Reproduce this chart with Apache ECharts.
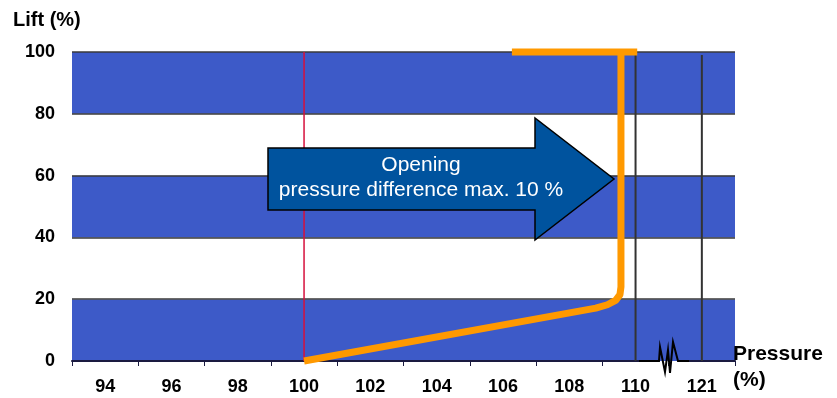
<!DOCTYPE html>
<html>
<head>
<meta charset="utf-8">
<script src="https://cdn.jsdelivr.net/npm/echarts@6/dist/echarts.min.js"></script>
<style>
  html, body { margin: 0; padding: 0; background: #fff; }
  #chart { width: 837px; height: 398px; }
</style>
</head>
<body>
<div id="chart"></div>
<script>
// Pressure tick labels (axis is broken between 110 and 121)
const pressureLabels = ['94', '96', '98', '100', '102', '104', '106', '108', '110', '121'];

// Lift curve: pressure (%) vs lift (%)
const liftCurvePressure = [100, 108.8, 109.15, 109.4, 109.53, 109.56, 109.56];
const liftCurveLift     = [0,   17.1,  18.2,   19.6,  21.5,   24,     100];

// Full-lift plateau (from / to)
const plateauPressure = [106.27, 110.05];
const plateauLift     = [100, 100];

// Reference pressures
const setPressure = 100;            // red line
const markerPressures = [110, 121]; // dark lines

const arrowText = ['Opening', 'pressure difference max. 10 %'];

// Map a pressure to the continuous axis position; everything from 121 on
// is shifted left so that 121 sits one category after 110
const BREAK_FROM = 110, BREAK_TO = 121;
function axisPos(p) {
  return p < BREAK_TO ? p : (BREAK_FROM + 2) + (p - BREAK_TO);
}

const font = 'Liberation Sans, Arial, Helvetica, sans-serif';
const BAND_BLUE = '#3d5ac8';
const ORANGE = '#ff9900';
const chart = echarts.init(document.getElementById('chart'));

const curveData = liftCurvePressure.map((p, i) => [axisPos(p), liftCurveLift[i]]);
const plateauData = plateauPressure.map((p, i) => [axisPos(p), plateauLift[i]]);

const markerSeries = markerPressures.map(p => ({
  type: 'line', xAxisIndex: 1, yAxisIndex: 0, symbol: 'none', silent: true, z: 3,
  lineStyle: { color: '#333', width: 2 },
  data: [[axisPos(p), 0], [axisPos(p), 99]]
}));

chart.setOption({
  animation: false,
  backgroundColor: '#fff',
  grid: { left: 72, right: 102, top: 52, bottom: 37, containLabel: false },
  xAxis: [
    {
      type: 'category', data: pressureLabels, boundaryGap: true, position: 'bottom',
      axisLine: { show: true, lineStyle: { color: '#1a1a40', width: 2 } },
      axisTick: { show: true, length: 5, lineStyle: { color: '#1a1a40', width: 1 } },
      axisLabel: { color: '#000', fontFamily: font, fontWeight: 'bold', fontSize: 18, margin: 17 },
      splitLine: { show: false }
    },
    {
      type: 'value', min: 93, max: 113, show: false,
      splitLine: { show: false }
    }
  ],
  yAxis: [{
    type: 'value', min: 0, max: 100, interval: 20,
    axisLine: { show: false }, axisTick: { show: false },
    axisLabel: { color: '#000', fontFamily: font, fontWeight: 'bold', fontSize: 18, margin: 17 },
    splitLine: { show: true, lineStyle: { color: '#3a3a3a', width: 1.5 } },
    splitArea: { show: true, areaStyle: { color: [BAND_BLUE, '#ffffff'] } }
  }],
  series: [
    {
      type: 'line', xAxisIndex: 1, yAxisIndex: 0, symbol: 'none', silent: true, z: 3,
      lineStyle: { color: '#d6103c', width: 1.5 },
      data: [[axisPos(setPressure), 0], [axisPos(setPressure), 100]]
    },
    ...markerSeries,
    {
      type: 'line', xAxisIndex: 1, yAxisIndex: 0, symbol: 'none', silent: true, z: 5, clip: false,
      lineStyle: { color: ORANGE, width: 7, cap: 'butt', join: 'round' },
      data: curveData
    },
    {
      type: 'line', xAxisIndex: 1, yAxisIndex: 0, symbol: 'none', silent: true, z: 5, clip: false,
      lineStyle: { color: ORANGE, width: 7, cap: 'butt' },
      data: plateauData
    }
  ]
});

// Annotations placed from axis coordinates
function px(p, lift) { return chart.convertToPixel({ xAxisIndex: 1, yAxisIndex: 0 }, [p, lift]); }
const brk = px(BREAK_FROM + 1, 0);
const bx = Math.round(brk[0]) - 30, by = Math.round(brk[1]);

chart.setOption({
  graphic: [
    {
      type: 'rect', z: 10,
      shape: { x: bx + 19, y: by - 2, width: 20, height: 2 },
      style: { fill: BAND_BLUE }
    },
    {
      type: 'rect', z: 10,
      shape: { x: bx + 19, y: by, width: 20, height: 2 },
      style: { fill: '#fff' }
    },
    {
      type: 'polyline', z: 11,
      shape: { points: [[bx, by], [bx + 20, by], [bx + 21, by - 14], [bx + 26, by + 11], [bx + 29, by - 11], [bx + 31, by + 12], [bx + 34, by - 19], [bx + 39, by], [bx + 50, by]] },
      style: { stroke: '#000', lineWidth: 2, fill: null }
    },
    {
      type: 'polygon', z: 12,
      shape: { points: [[268, 148], [535, 148], [535, 118], [614, 179], [535, 240], [535, 210], [268, 210]] },
      style: { fill: '#00539e', stroke: '#000', lineWidth: 1.5 }
    },
    {
      type: 'text', z: 13, x: 421, y: 153,
      style: { text: arrowText.join('\n'), fill: '#fff', font: '21px ' + font, lineHeight: 25,
               align: 'center', textAlign: 'center', verticalAlign: 'top', textVerticalAlign: 'top' }
    },
    {
      type: 'text', z: 13, x: 13, y: 20,
      style: { text: 'Lift (%)', fill: '#000', font: 'bold 20px ' + font,
               verticalAlign: 'middle', textVerticalAlign: 'middle' }
    },
    {
      type: 'text', z: 13, x: 733, y: 341,
      style: { text: 'Pressure\n(%)', fill: '#000', font: 'bold 21px ' + font, lineHeight: 26,
               verticalAlign: 'top', textVerticalAlign: 'top' }
    }
  ]
});
</script>
</body>
</html>
